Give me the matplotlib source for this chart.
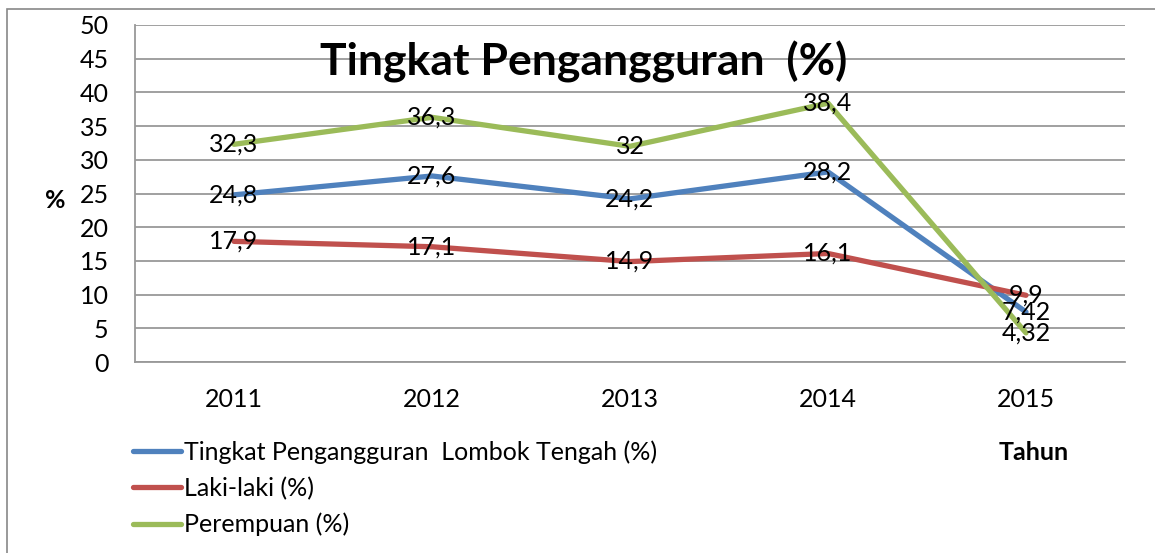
import matplotlib
matplotlib.use("Agg")
import matplotlib.pyplot as plt
from matplotlib.patches import Rectangle
from matplotlib.lines import Line2D

years = ["2011", "2012", "2013", "2014", "2015"]
total = [24.8, 27.6, 24.2, 28.2, 7.42]
male = [17.9, 17.1, 14.9, 16.1, 9.9]
female = [32.3, 36.3, 32, 38.4, 4.32]
total_lbl = ["24,8", "27,6", "24,2", "28,2", "7,42"]
male_lbl = ["17,9", "17,1", "14,9", "16,1", "9,9"]
female_lbl = ["32,3", "36,3", "32", "38,4", "4,32"]
series_names = ["Tingkat Pengangguran  Lombok Tengah (%)", "Laki-laki (%)", "Perempuan (%)"]
colors = ["#4F81BD", "#C0504D", "#9BBB59"]

plt.rcParams['font.family'] = ['Lato', 'DejaVu Sans']
W, H = 1155, 553
fig = plt.figure(figsize=(W/100, H/100), dpi=100)

# outer border
fig.patches.append(Rectangle((7/W, -0.1), 1.2, 1 - 9/H + 0.1, transform=fig.transFigure,
                             fill=False, edgecolor="#888888", linewidth=1.2))

ax = fig.add_axes([135/W, 1 - 362/H, (1125-135)/W, (362-25)/H])
x = list(range(len(years)))
for vals, c in [(total, colors[0]), (male, colors[1]), (female, colors[2])]:
    ax.plot(x, vals, color=c, lw=3.8, solid_capstyle='round', zorder=3)
for vals, lbls in [(total, total_lbl), (male, male_lbl), (female, female_lbl)]:
    for xi, v, l in zip(x, vals, lbls):
        ax.text(xi, v, l, ha='center', va='center', fontsize=18, color='black', zorder=5)

ax.set_xlim(-0.5, 4.5)
ax.set_ylim(0, 50)
ax.set_yticks(range(0, 51, 5))
ax.set_xticks(x)
ax.set_xticklabels(years)
ax.tick_params(axis='both', length=0, labelsize=18)
ax.tick_params(axis='y', pad=19)
ax.tick_params(axis='x', pad=19)
ax.grid(axis='y', color='#999999', lw=1.3)
ax.set_axisbelow(True)
for s in ['top', 'right']:
    ax.spines[s].set_visible(False)
for s in ['left', 'bottom']:
    ax.spines[s].set_color('#999999')
    ax.spines[s].set_linewidth(1.3)

fig.text(584/W, 1 - 62/H, "Tingkat Pengangguran  (%)", ha='center', va='center',
         fontsize=32, fontweight='bold')
fig.text(55/W, 1 - 200/H, "%", ha='center', va='center', fontsize=18, fontweight='bold')
fig.text(1034/W, 1 - 452/H, "Tahun", ha='center', va='center', fontsize=18, fontweight='bold')

handles = [Line2D([0], [0], color=c, lw=3.8, solid_capstyle='round') for c in colors]
fig.legend(handles, series_names, loc='upper left', bbox_to_anchor=(133/W, 1 - 440/H),
           frameon=False, fontsize=18, handlelength=1.9, handletextpad=0.12,
           labelspacing=0.52, borderpad=0, borderaxespad=0)

fig.savefig("out.png", dpi=100)
